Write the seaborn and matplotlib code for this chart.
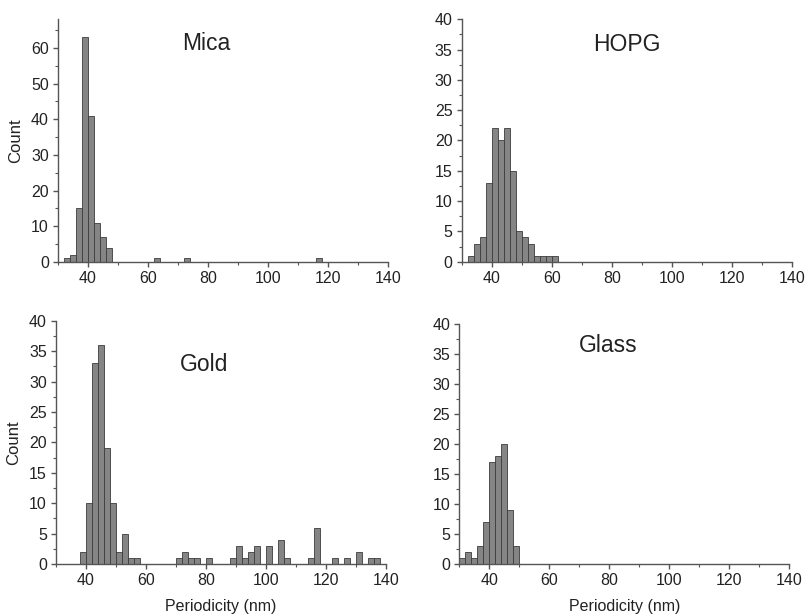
import numpy as np
import pandas as pd
import matplotlib
matplotlib.use("Agg")
import matplotlib.pyplot as plt
import seaborn as sns
from matplotlib.ticker import MultipleLocator

# ---- data: histogram bins (left edges, nm) and counts, bin width 2 nm ----
mica_bins = [32, 34, 36, 38, 40, 42, 44, 46, 62, 72, 116]
mica_counts = [1, 2, 15, 63, 41, 11, 7, 4, 1, 1, 1]

hopg_bins = [32, 34, 36, 38, 40, 42, 44, 46, 48, 50, 52, 54, 56, 58, 60]
hopg_counts = [1, 3, 4, 13, 22, 20, 22, 15, 5, 4, 3, 1, 1, 1, 1]

gold_bins = [38, 40, 42, 44, 46, 48, 50, 52, 54, 56,
             70, 72, 74, 76, 80, 88, 90, 92, 94, 96, 100, 104, 106,
             114, 116, 122, 126, 130, 134, 136]
gold_counts = [2, 10, 33, 36, 19, 10, 2, 5, 1, 1,
               1, 2, 1, 1, 1, 1, 3, 1, 2, 3, 3, 4, 1,
               1, 6, 1, 1, 2, 1, 1]

glass_bins = [30, 32, 34, 36, 38, 40, 42, 44, 46, 48]
glass_counts = [1, 2, 1, 3, 7, 17, 18, 20, 9, 3]

titles = ["Mica", "HOPG", "Gold", "Glass"]
x_ticks = [40, 60, 80, 100, 120, 140]
bin_width = 2

sns.set_theme(style="white")
plt.rcParams['font.family'] = ['Liberation Sans', 'DejaVu Sans']

fig = plt.figure(figsize=(8.05, 6.14), dpi=100)
W, H = 805, 614

# pixel boxes: left, top, right, bottom
boxes = [
    (58, 19.3, 388, 262),
    (461.7, 19.3, 791.7, 261.7),
    (56, 320.7, 386, 564),
    (459.3, 324, 789.3, 564.3),
]
panels = [
    (mica_bins, mica_counts, 68, 10, 5),
    (hopg_bins, hopg_counts, 40, 5, 2.5),
    (gold_bins, gold_counts, 40, 5, 2.5),
    (glass_bins, glass_counts, 40, 5, 2.5),
]
title_pos = [(0.448, 0.902), (0.50, 0.894), (0.45, 0.818), (0.451, 0.91)]

axis_col = "#555555"
text_col = "#222222"

for i, ((bins, counts, ymax, ymaj, ymin), (l, t, r, b)) in enumerate(zip(panels, boxes)):
    ax = fig.add_axes([l / W, (H - b) / H, (r - l) / W, (b - t) / H])
    df = pd.DataFrame({"x": np.array(bins) + bin_width / 2, "n": counts})
    sns.histplot(data=df, x="x", weights="n", binwidth=bin_width, binrange=(30, 140),
                 color="#858585", edgecolor="#3c3c3c", linewidth=0.6, alpha=1.0, ax=ax)
    ax.set_xlim(30, 140)
    ax.set_ylim(0, ymax)
    ax.set_xticks(x_ticks)
    ax.xaxis.set_minor_locator(MultipleLocator(10))
    ax.yaxis.set_major_locator(MultipleLocator(ymaj))
    ax.yaxis.set_minor_locator(MultipleLocator(ymin))
    for s in ["top", "right"]:
        ax.spines[s].set_visible(False)
    for s in ["left", "bottom"]:
        ax.spines[s].set_color(axis_col)
        ax.spines[s].set_linewidth(1.0)
    ax.tick_params(which="major", direction="out", length=3.5, width=1.0, color=axis_col,
                   labelsize=11.5, labelcolor=text_col, pad=3, left=True, bottom=True)
    ax.tick_params(which="minor", direction="out", length=2.2, width=0.8, color=axis_col,
                   left=True, bottom=True)
    ax.set_ylabel("Count" if i in (0, 2) else "", fontsize=12, color=text_col, labelpad=6)
    ax.set_xlabel("Periodicity (nm)" if i in (2, 3) else "", fontsize=11.5, color=text_col,
                  labelpad=8)
    tx, ty = title_pos[i]
    ax.text(tx, ty, titles[i], transform=ax.transAxes, ha="center", va="center",
            fontsize=16.5, color=text_col)
    ax.set_facecolor("white")
    ax.grid(False)

fig.savefig("out.png", dpi=100, facecolor="white")
